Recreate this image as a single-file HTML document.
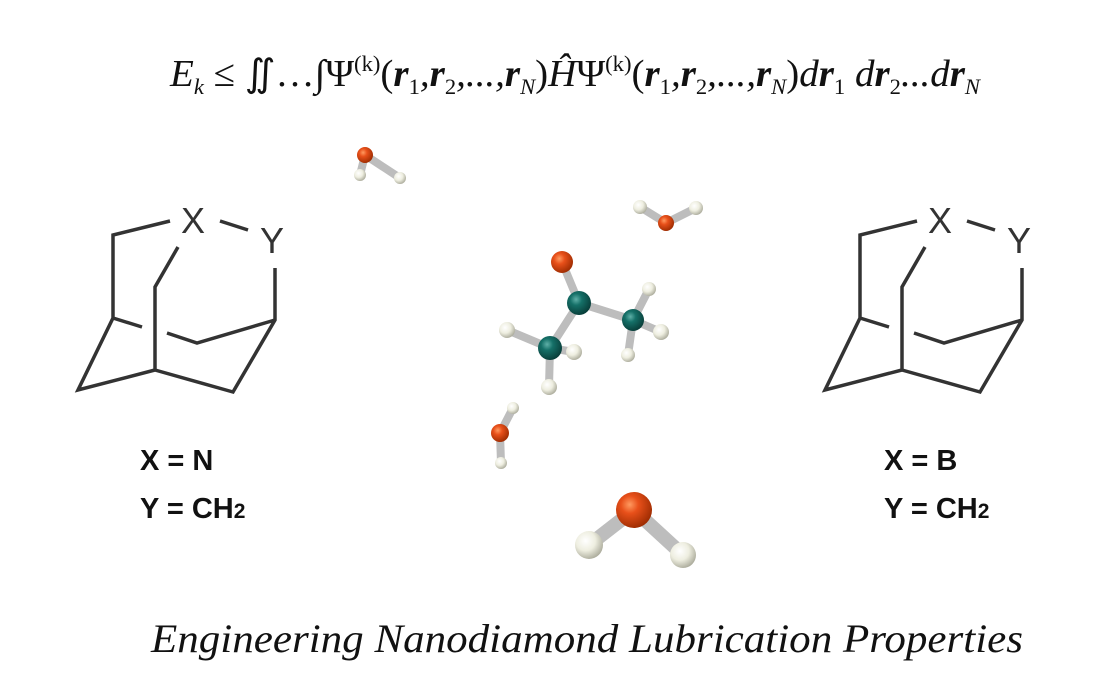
<!DOCTYPE html>
<html><head><meta charset="utf-8"><style>
html,body{margin:0;padding:0;background:#fff;}
svg{display:block;}
</style></head><body>
<svg width="1120" height="700" viewBox="0 0 1120 700" xmlns="http://www.w3.org/2000/svg">
<defs>
<radialGradient id="gO" cx="0.38" cy="0.35" r="0.7"><stop offset="0" stop-color="#ff9a60"/><stop offset="0.35" stop-color="#e8501a"/><stop offset="1" stop-color="#9a2a00"/></radialGradient>
<radialGradient id="gC" cx="0.38" cy="0.35" r="0.7"><stop offset="0" stop-color="#5fb0a8"/><stop offset="0.35" stop-color="#157068"/><stop offset="1" stop-color="#073a36"/></radialGradient>
<radialGradient id="gH" cx="0.38" cy="0.35" r="0.7"><stop offset="0" stop-color="#ffffff"/><stop offset="0.5" stop-color="#eeeee0"/><stop offset="1" stop-color="#a8a898"/></radialGradient>
<g id="ad" fill="none" stroke="#333" stroke-width="3.5">
<path d="M170,221 L113,235 L113,318 L142,327 M113,318 L78,390 L155,370 L155,287 L178,247 M155,370 L233,392 L275,320 L275,268 M275,320 L197,343 L167,333 M220,221 L248,230"/>
</g>
</defs>

<text x="170" y="86" font-family="Liberation Serif, serif" font-style="italic" font-size="38" fill="#111" textLength="810" lengthAdjust="spacingAndGlyphs"><tspan>E</tspan><tspan font-size="22" dy="8">k</tspan><tspan dy="-8" font-style="normal"> ≤ ∬…∫Ψ</tspan><tspan font-size="22" dy="-15" font-style="normal">(k)</tspan><tspan dy="15" font-style="normal">(</tspan><tspan font-weight="bold">r</tspan><tspan font-size="22" dy="8" font-style="normal">1</tspan><tspan dy="-8">,</tspan><tspan font-weight="bold">r</tspan><tspan font-size="22" dy="8" font-style="normal">2</tspan><tspan dy="-8">,...,</tspan><tspan font-weight="bold">r</tspan><tspan font-size="22" dy="8">N</tspan><tspan dy="-8" font-style="normal">)</tspan><tspan>Ĥ</tspan><tspan font-style="normal">Ψ</tspan><tspan font-size="22" dy="-15" font-style="normal">(k)</tspan><tspan dy="15" font-style="normal">(</tspan><tspan font-weight="bold">r</tspan><tspan font-size="22" dy="8" font-style="normal">1</tspan><tspan dy="-8">,</tspan><tspan font-weight="bold">r</tspan><tspan font-size="22" dy="8" font-style="normal">2</tspan><tspan dy="-8">,...,</tspan><tspan font-weight="bold">r</tspan><tspan font-size="22" dy="8">N</tspan><tspan dy="-8" font-style="normal">)</tspan><tspan>d</tspan><tspan font-weight="bold">r</tspan><tspan font-size="22" dy="8" font-style="normal">1</tspan><tspan dy="-8"> d</tspan><tspan font-weight="bold">r</tspan><tspan font-size="22" dy="8" font-style="normal">2</tspan><tspan dy="-8">...d</tspan><tspan font-weight="bold">r</tspan><tspan font-size="22" dy="8">N</tspan></text>

<use href="#ad"/>
<text x="193" y="233" text-anchor="middle" font-family="Liberation Sans, sans-serif" font-size="36" fill="#333">X</text>
<text x="272" y="253" text-anchor="middle" font-family="Liberation Sans, sans-serif" font-size="36" fill="#333">Y</text>
<use href="#ad" transform="translate(747,0)"/>
<text x="940" y="233" text-anchor="middle" font-family="Liberation Sans, sans-serif" font-size="36" fill="#333">X</text>
<text x="1019" y="253" text-anchor="middle" font-family="Liberation Sans, sans-serif" font-size="36" fill="#333">Y</text>

<g font-family="Liberation Sans, sans-serif" font-weight="bold" font-size="29" fill="#111">
<text x="140" y="470">X = N</text>
<text x="140" y="518">Y = CH<tspan font-size="21">2</tspan></text>
<text x="884" y="470">X = B</text>
<text x="884" y="518">Y = CH<tspan font-size="21">2</tspan></text>
</g>

<g stroke="#bdbdbd" stroke-linecap="round" fill="none">
<g stroke-width="8">
<path d="M365,155 L360,175 M365,155 L400,178"/>
<path d="M640,207 L666,223 L696,208"/>
<path d="M562,262 L579,303 L633,320 M579,303 L550,348 M633,320 L649,289 M633,320 L661,332 M633,320 L628,355 M550,348 L507,330 M550,348 L574,352 M550,348 L549,387"/>
<path d="M513,408 L500,433 L501,463"/>
</g>
<path stroke-width="14" d="M634,510 L589,545 M634,510 L683,555"/>
</g>
<g>
<circle cx="360" cy="175" r="6" fill="url(#gH)"/>
<circle cx="400" cy="178" r="6" fill="url(#gH)"/>
<circle cx="365" cy="155" r="8" fill="url(#gO)"/>
<circle cx="640" cy="207" r="7" fill="url(#gH)"/>
<circle cx="696" cy="208" r="7" fill="url(#gH)"/>
<circle cx="666" cy="223" r="8" fill="url(#gO)"/>
<circle cx="562" cy="262" r="11" fill="url(#gO)"/>
<circle cx="649" cy="289" r="7" fill="url(#gH)"/>
<circle cx="507" cy="330" r="8" fill="url(#gH)"/>
<circle cx="579" cy="303" r="12" fill="url(#gC)"/>
<circle cx="633" cy="320" r="11" fill="url(#gC)"/>
<circle cx="661" cy="332" r="8" fill="url(#gH)"/>
<circle cx="628" cy="355" r="7" fill="url(#gH)"/>
<circle cx="550" cy="348" r="12" fill="url(#gC)"/>
<circle cx="574" cy="352" r="8" fill="url(#gH)"/>
<circle cx="549" cy="387" r="8" fill="url(#gH)"/>
<circle cx="513" cy="408" r="6" fill="url(#gH)"/>
<circle cx="501" cy="463" r="6" fill="url(#gH)"/>
<circle cx="500" cy="433" r="9" fill="url(#gO)"/>
<circle cx="589" cy="545" r="14" fill="url(#gH)"/>
<circle cx="683" cy="555" r="13" fill="url(#gH)"/>
<circle cx="634" cy="510" r="18" fill="url(#gO)"/>
</g>

<text x="587" y="652" text-anchor="middle" font-family="Liberation Serif, serif" font-style="italic" font-size="40" fill="#111" textLength="872" lengthAdjust="spacingAndGlyphs">Engineering Nanodiamond Lubrication Properties</text>
</svg>
</body></html>
